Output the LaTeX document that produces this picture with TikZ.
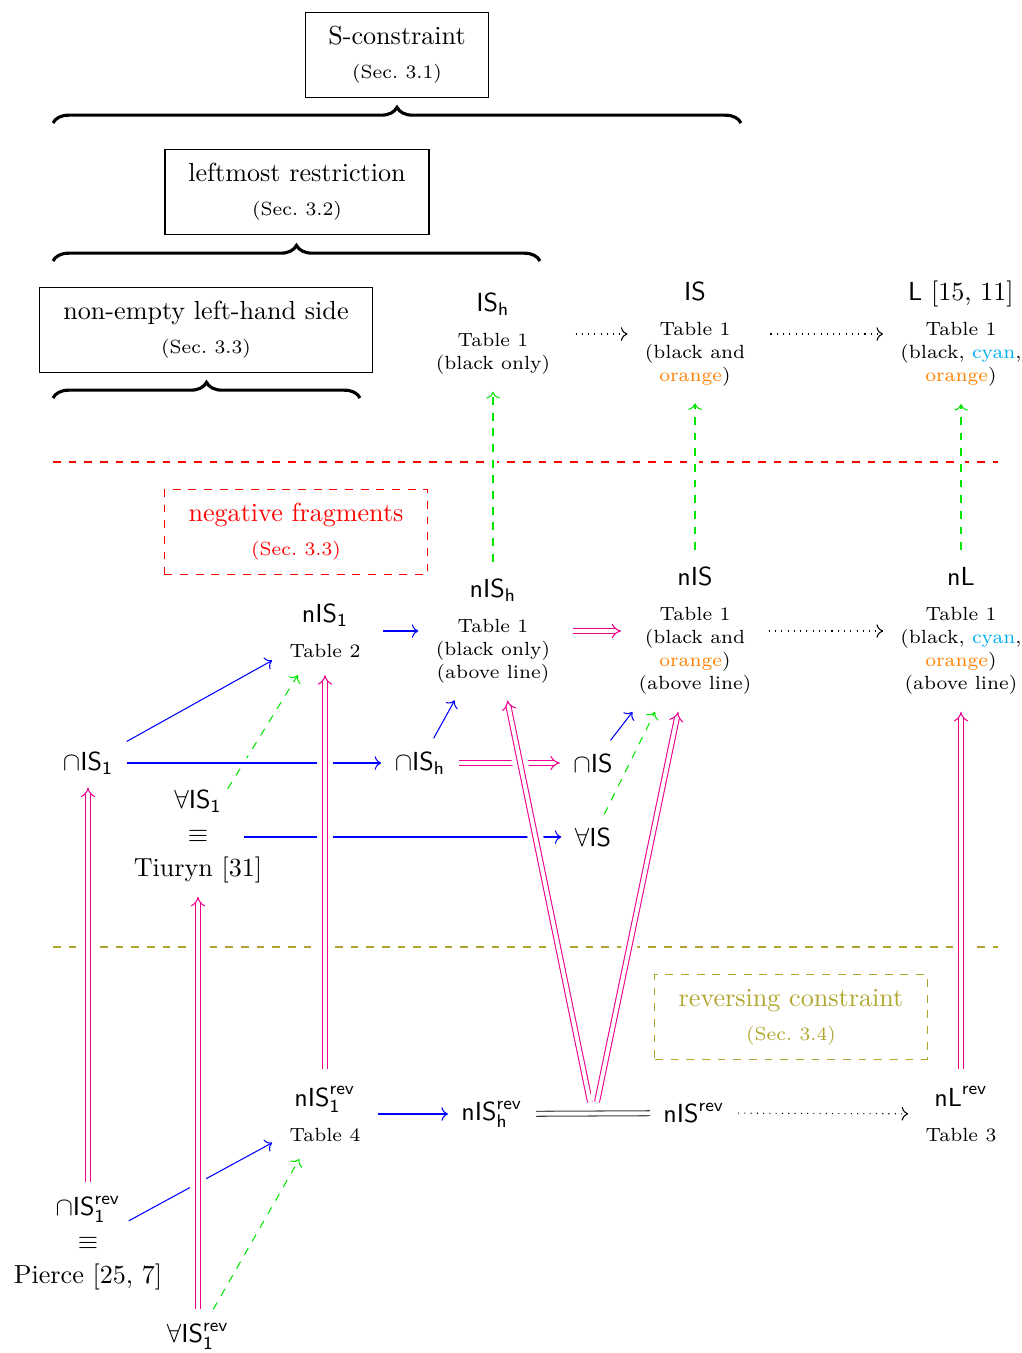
\documentclass[tikz,border=0pt]{standalone}
\usetikzlibrary{arrows.meta,decorations.pathreplacing,calc}
\definecolor{mag}{RGB}{236,0,140}
\definecolor{cyc}{RGB}{0,174,239}
\definecolor{orc}{RGB}{255,128,0}
\definecolor{olc}{RGB}{175,165,45}
\definecolor{grc}{RGB}{0,230,0}
\newcommand\tsz{\fontsize{7.3}{8.8}\selectfont}
\newcommand\sfm[1]{\mathsf{#1}}
\begin{document}
\begin{tikzpicture}[x=0.383pt,y=-0.383pt,
  box/.style={draw, align=center, minimum height=32.6pt, inner sep=0pt},
  lab/.style={inner sep=5pt},
  tab/.style={align=center, inner sep=6.5pt, font=\tsz},
  brc/.style={decorate, decoration={brace, amplitude=6pt}, line width=1.2pt},
  imp/.style={mag, double, double distance=1.5pt, -{Implies}},
  blu/.style={blue, ->},
  grd/.style={grc, dashed, ->},
  dotarr/.style={dotted, ->},
  halo/.style={white, line width=#1},
  halo/.default=6pt]
\useasboundingbox (0,0) rectangle (1022,1353);

% boxes
\node[box, minimum width=70.1pt] (sbox) at (397,55) {S-constraint\\[1pt]{\tsz (Sec.~3.1)}};
\node[box, minimum width=101.1pt] (lbox) at (297,192) {leftmost restriction\\[1pt]{\tsz (Sec.~3.2)}};
\node[box, minimum width=127.6pt] (nbox) at (206,330) {non-empty left-hand side\\[1pt]{\tsz (Sec.~3.3)}};
\node[box, draw=red, dashed, text=red, minimum width=100.8pt] (negbox) at (296,532) {negative fragments\\[1pt]{\tsz (Sec.~3.3)}};
\node[box, draw=olc, dashed, text=olc, minimum width=104.2pt] (revbox) at (791,1017) {reversing constraint\\[1pt]{\tsz (Sec.~3.4)}};

% braces
\coordinate (b1l) at (53,123); \coordinate (b1r) at (741,123);
\coordinate (b2l) at (53,261); \coordinate (b2r) at (540,261);
\coordinate (b3l) at (53,398); \coordinate (b3r) at (360,398);
\draw[brc] (b1l) -- (b1r);
\draw[brc] (b2l) -- (b2r);
\draw[brc] (b3l) -- (b3r);

% separating lines
\coordinate (redl) at (53,462); \coordinate (redr) at (998,462);
\coordinate (oll) at (53,947); \coordinate (olr) at (998,947);
\draw[red, dashed] (redl) -- (redr);
\draw[olc, dashed] (oll) -- (olr);

% row 1
\node[tab] (ISh) at (493,334) {{\normalsize $\sfm{IS}_{\sfm{h}}$}\\[4.6pt]Table 1\\(black only)};
\node[tab] (IS) at (695,334) {{\normalsize $\sfm{IS}$}\\[4.6pt]Table 1\\(black and\\{\color{orc}orange})};
\node[tab] (L) at (961,334) {{\normalsize $\sfm{L}$ [15,~11]}\\[4.6pt]Table 1\\(black, {\color{cyc}cyan},\\{\color{orc}orange})};

% row 2
\node[tab] (nIS1) at (325,631) {{\normalsize $\sfm{nIS}_{\sfm{1}}$}\\[4.6pt]Table 2};
\node[tab] (nISh) at (493,631) {{\normalsize $\sfm{nIS}_{\sfm{h}}$}\\[4.6pt]Table 1\\(black only)\\(above line)};
\node[tab] (nIS) at (695,631) {{\normalsize $\sfm{nIS}$}\\[4.6pt]Table 1\\(black and\\{\color{orc}orange})\\(above line)};
\node[tab] (nL) at (961,631) {{\normalsize $\sfm{nL}$}\\[4.6pt]Table 1\\(black, {\color{cyc}cyan},\\{\color{orc}orange})\\(above line)};

% row 3
\node[lab] (capIS1) at (88,763) {$\cap\sfm{IS}_{\sfm{1}}$};
\node[lab] (capISh) at (420,763) {$\cap\sfm{IS}_{\sfm{h}}$};
\node[lab] (capIS) at (593,763) {$\cap\sfm{IS}$};
\node[lab, align=center] (tiu) at (198,837) {$\forall\sfm{IS}_{\sfm{1}}$\\[1pt]$\equiv$\\[1pt]Tiuryn [31]};
\node[lab] (forallIS) at (593,837) {$\forall\sfm{IS}$};

% bottom
\node[tab] (nIS1rev) at (325,1114) {{\normalsize $\sfm{nIS}_{\sfm{1}}^{\sfm{rev}}$}\\[4.6pt]Table 4};
\node[lab] (nIShrev) at (492,1114) {$\sfm{nIS}_{\sfm{h}}^{\sfm{rev}}$};
\node[lab] (nISrev) at (694,1113) {$\sfm{nIS}^{\sfm{rev}}$};
\node[tab] (nLrev) at (961,1114) {{\normalsize $\sfm{nL}^{\sfm{rev}}$}\\[4.6pt]Table 3};
\node[lab, align=center] (pie) at (88,1243) {$\cap\sfm{IS}_{\sfm{1}}^{\sfm{rev}}$\\[1pt]$\equiv$\\[1pt]Pierce [25,~7]};
\node[lab] (forallrev) at (198,1336) {$\forall\sfm{IS}_{\sfm{1}}^{\sfm{rev}}$};

\coordinate (v1) at (590,1102);
\coordinate (v2) at (597,1102);

% top arrows
\draw[dotarr, shorten <=3pt] (ISh) -- (IS);
\draw[dotarr, shorten <=3pt] (IS) -- (L);
\draw[halo=3pt] (nISh) -- (ISh);
\draw[grd] (nISh) -- (ISh);
\draw[halo=3pt] (nIS) -- (IS);
\draw[grd] (nIS) -- (IS);
\draw[halo=3pt] (nL) -- (L);
\draw[grd] (nL) -- (L);

% row 2 arrows
\draw[blu, shorten <=2pt] (nIS1) -- (nISh);
\draw[imp, shorten <=2pt] (nISh) -- (nIS);
\draw[dotarr] (nIS) -- (nL);

% row 3 arrows
\draw[blu] (capIS1) -- (nIS1);
\draw[grd, shorten <=21.7pt] (tiu.center) -- (nIS1);
\draw[halo=4pt] (capIS1) -- (capISh);
\draw[blu] (capIS1) -- (capISh);
\draw[blu, shorten <=17.6pt] (tiu.center) -- (forallIS);
\draw[imp] (capISh) -- (capIS);
\draw[blu] (capISh) -- (nISh);

% bottom arrows
\draw[blu, shorten <=17.8pt] (pie.center) -- (nIS1rev);
\draw[grd] (forallrev) -- (nIS1rev);
\draw[blu] (nIS1rev) -- (nIShrev);
\draw[black!75, double, double distance=1.5pt] (nIShrev) -- (nISrev);
\draw[dotarr] (nISrev) -- (nLrev);

% vertical implications
\draw[halo] (pie) -- (capIS1);
\draw[imp] (pie) -- (capIS1);
\draw[halo] (forallrev) -- (tiu);
\draw[imp] (forallrev) -- (tiu);
\draw[halo] (nIS1rev) -- (nIS1);
\draw[imp] (nIS1rev) -- (nIS1);
\draw[halo] (nLrev) -- (nL);
\draw[imp] (nLrev) -- (nL);
\draw[halo] (v1) -- (nISh);
\draw[imp] (v1) -- (nISh);
\draw[halo] (v2) -- (nIS);
\draw[imp] (v2) -- (nIS);

% arrows into nIS
\draw[blu] (capIS) -- (nIS);
\draw[grd] (forallIS) -- (nIS);
\end{tikzpicture}
\end{document}
